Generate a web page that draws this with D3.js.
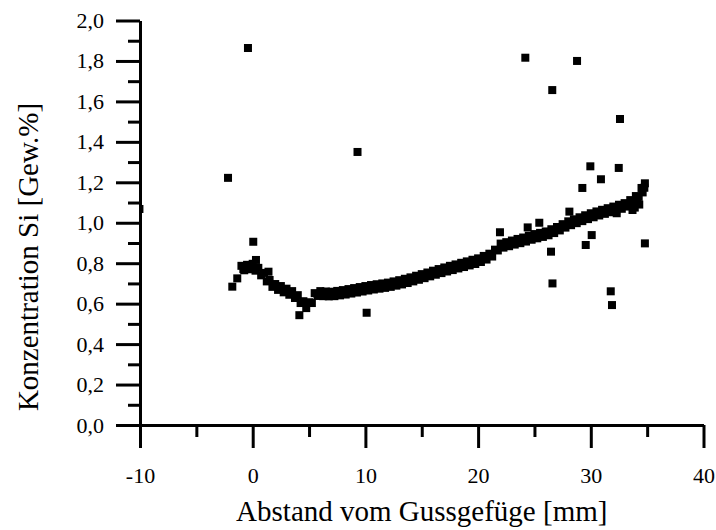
<!DOCTYPE html>
<html>
<head>
<meta charset="utf-8">
<script src="https://cdn.jsdelivr.net/npm/d3@7"></script>
<style>
  html, body { margin: 0; padding: 0; background: #fff; }
  text { font-family: "Liberation Serif", "Times New Roman", serif; fill: #000; }
</style>
</head>
<body>
<div id="chart"></div>
<script>
// Data: Abstand [mm] vs. Si concentration [Gew.%]
const abstand = [
  -1.0, -0.75, -0.5, -0.25, 0, 0.25, 0.5, 0.75, 1.0, 1.25, 1.5, 1.75, 2.0, 2.25, 2.5, 2.75,
  3.0, 3.25, 3.5, 3.75, 4.0, 4.25, 4.5, 4.75, 5.0, 5.25, 5.5, 5.75, 6.0, 6.25, 6.5, 6.75,
  7.0, 7.25, 7.5, 7.75, 8.0, 8.25, 8.5, 8.75, 9.0, 9.25, 9.5, 9.75, 10.0, 10.25, 10.5, 10.75,
  11.0, 11.25, 11.5, 11.75, 12.0, 12.25, 12.5, 12.75, 13.0, 13.25, 13.5, 13.75, 14.0, 14.25,
  14.5, 14.75, 15.0, 15.25, 15.5, 15.75, 16.0, 16.25, 16.5, 16.75, 17.0, 17.25, 17.5, 17.75,
  18.0, 18.25, 18.5, 18.75, 19.0, 19.25, 19.5, 19.75, 20.0, 20.25, 20.5, 20.75, 21.0, 21.25,
  21.5, 21.75, 22.0, 22.25, 22.5, 22.75, 23.0, 23.25, 23.5, 23.75, 24.0, 24.25, 24.5, 24.75,
  25.0, 25.25, 25.5, 25.75, 26.0, 26.25, 26.5, 26.75, 27.0, 27.25, 27.5, 27.75, 28.0, 28.25,
  28.5, 28.75, 29.0, 29.25, 29.5, 29.75, 30.0, 30.25, 30.5, 30.75, 31.0, 31.25, 31.5, 31.75,
  32.0, 32.25, 32.5, 32.75, 33.0, 33.25, 33.5, 33.75, 34.0, 34.25, 34.5, 34.75,
  34.8, 34.6, 34.3, 33.7, 32.3, 34.1, 33.9
];
const konzentration = [
  0.787, 0.765, 0.792, 0.770, 0.797, 0.763, 0.777, 0.740, 0.752, 0.710, 0.717, 0.683, 0.697, 0.668, 0.687, 0.656,
  0.674, 0.644, 0.662, 0.628, 0.642, 0.603, 0.612, 0.578, 0.607, 0.603, 0.652, 0.638, 0.662, 0.637, 0.660, 0.636,
  0.659, 0.637, 0.663, 0.641, 0.667, 0.645, 0.672, 0.650, 0.677, 0.655, 0.682, 0.660, 0.687, 0.665, 0.692, 0.670,
  0.696, 0.674, 0.700, 0.678, 0.704, 0.683, 0.710, 0.689, 0.716, 0.695, 0.723, 0.702, 0.730, 0.710,
  0.738, 0.718, 0.746, 0.726, 0.754, 0.735, 0.763, 0.743, 0.771, 0.751, 0.779, 0.759, 0.787, 0.766,
  0.794, 0.774, 0.802, 0.781, 0.809, 0.789, 0.817, 0.796, 0.824, 0.806, 0.836, 0.818, 0.847, 0.833,
  0.867, 0.863, 0.897, 0.877, 0.904, 0.884, 0.912, 0.892, 0.920, 0.899, 0.927, 0.907, 0.936, 0.916,
  0.944, 0.923, 0.950, 0.930, 0.957, 0.938, 0.968, 0.949, 0.979, 0.962, 0.993, 0.976, 1.007, 0.988,
  1.017, 0.998, 1.027, 1.008, 1.037, 1.018, 1.047, 1.027, 1.056, 1.036, 1.064, 1.044, 1.072, 1.052,
  1.080, 1.060, 1.089, 1.069, 1.097, 1.080, 1.112, 1.098, 1.132, 1.128, 1.172, 1.173,
  1.195, 1.150, 1.090, 1.063, 1.047, 1.105, 1.075
];

// scattered single measurements
const ausreisserAbstand = [
  -10.05, -2.19, -0.42, 0.05, 0.29, -0.83, -1.37, -1.81, 1.4, 4.14, 10.11, 9.3,
  21.94, 24.19, 24.4, 25.43, 26.47, 26.6, 26.58, 28.1, 28.78, 29.25, 29.55, 29.96,
  30.08, 30.9, 31.77, 31.88, 32.48, 32.59, 34.8
];
const ausreisserKonz = [
  1.068, 1.222, 1.864, 0.906, 0.816, 0.771, 0.725, 0.684, 0.758, 0.543, 0.555, 1.35,
  0.953, 1.816, 0.977, 1.0, 0.857, 0.70, 1.656, 1.055, 1.80, 1.172, 0.89, 1.279,
  0.939, 1.215, 0.661, 0.593, 1.271, 1.513, 0.898
];

const xMajor = [-10, 0, 10, 20, 30, 40];
const xMinor = [-5, 5, 15, 25, 35];
const yMajor = [0, 0.2, 0.4, 0.6, 0.8, 1.0, 1.2, 1.4, 1.6, 1.8, 2.0];
const yMinor = [0.1, 0.3, 0.5, 0.7, 0.9, 1.1, 1.3, 1.5, 1.7, 1.9];

const width = 716;
const height = 530;
const plot = {left: 140, right: 703.5, top: 20.5, bottom: 425};

const svg = d3.select('#chart')
  .append('svg')
  .attr('width', width)
  .attr('height', height);

const x = d3.scaleLinear().domain([-10, 40]).range([plot.left, plot.right]);
const y = d3.scaleLinear().domain([0, 2]).range([plot.bottom, plot.top]);

const points = abstand.map((d, i) => ({x: d, y: konzentration[i]}))
  .concat(ausreisserAbstand.map((d, i) => ({x: d, y: ausreisserKonz[i]})));

svg.append('clipPath').attr('id', 'clip')
  .append('rect')
  .attr('x', plot.left + 1.5).attr('y', 0)
  .attr('width', width).attr('height', plot.bottom);

// markers
const s = 8;
svg.append('g')
  .attr('clip-path', 'url(#clip)')
  .selectAll('rect')
  .data(points)
  .join('rect')
  .attr('x', d => x(d.x) - s / 2)
  .attr('y', d => y(d.y) - s / 2)
  .attr('width', s)
  .attr('height', s)
  .attr('fill', '#000');

// axes
function styleAxis(g) {
  g.selectAll('path, line').style('stroke', '#000').style('stroke-width', '3px');
  g.selectAll('text').attr('font-size', 22).attr('fill', '#000');
}

svg.append('g')
  .attr('transform', `translate(0,${plot.bottom})`)
  .call(d3.axisBottom(x).tickValues(xMinor).tickSize(12).tickFormat(''))
  .call(g => g.select('.domain').remove())
  .call(styleAxis);

svg.append('g')
  .attr('transform', `translate(${plot.left},0)`)
  .call(d3.axisLeft(y).tickValues(yMinor).tickSize(12).tickFormat(''))
  .call(g => g.select('.domain').remove())
  .call(styleAxis);

svg.append('g')
  .attr('transform', `translate(0,${plot.bottom})`)
  .call(d3.axisBottom(x).tickValues(xMajor).tickSize(23).tickSizeOuter(0)
    .tickPadding(19).tickFormat(d => String(d)))
  .call(styleAxis)
  .call(g => g.attr('font-family', null));

svg.append('g')
  .attr('transform', `translate(${plot.left},0)`)
  .call(d3.axisLeft(y).tickValues(yMajor).tickSize(24).tickSizeOuter(0)
    .tickPadding(12).tickFormat(d => d3.format('.1f')(d).replace('.', ',')))
  .call(styleAxis)
  .call(g => g.attr('font-family', null));

// titles
svg.append('text')
  .attr('x', (plot.left + plot.right) / 2)
  .attr('y', 521)
  .attr('text-anchor', 'middle')
  .attr('font-size', 29)
  .text('Abstand vom Gussgefüge [mm]');

svg.append('text')
  .attr('transform', 'translate(38,257) rotate(-90)')
  .attr('text-anchor', 'middle')
  .attr('font-size', 29)
  .text('Konzentration Si [Gew.%]');
</script>
</body>
</html>
